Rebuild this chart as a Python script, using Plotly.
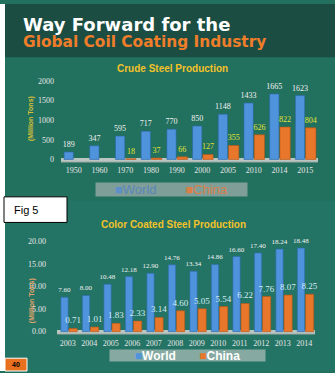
import plotly.graph_objects as go

# ---- data ----
crude_years = ["1950", "1960", "1970", "1980", "1990", "2000", "2005", "2010", "2014", "2015"]
crude_world = [189, 347, 595, 717, 770, 850, 1148, 1433, 1665, 1623]
crude_china = [None, None, 18, 37, 66, 127, 355, 626, 822, 804]

cc_years = ["2003", "2004", "2005", "2006", "2007", "2008", "2009", "2010", "2011", "2012", "2013", "2014"]
cc_world = [7.60, 8.00, 10.48, 12.18, 12.90, 14.76, 13.34, 14.86, 16.60, 17.40, 18.24, 18.48]
cc_china = [0.71, 1.01, 1.83, 2.33, 3.14, 4.60, 5.05, 5.54, 6.22, 7.76, 8.07, 8.25]

W, H = 335, 373
BLUE = "#4f93dc"
ORANGE = "#e8772b"
YELLOW = "#f2c22a"

def px(x):
    return x / W

def py(y):
    return (H - y) / H

fig = go.Figure()

# Chart 1: Crude steel
fig.add_trace(go.Bar(
    x=crude_years, y=crude_world, name="World", xaxis="x", yaxis="y",
    marker=dict(color=BLUE, line=dict(color="#2d6aa8", width=0.6)),
    offset=-0.38, width=0.36,
    text=[str(v) for v in crude_world], textposition="outside", constraintext="none",
    textfont=dict(color="#f2f2f2", size=8, family="Liberation Serif"),
    cliponaxis=False, showlegend=False))
fig.add_trace(go.Bar(
    x=crude_years, y=crude_china, name="China", xaxis="x", yaxis="y",
    marker=dict(color=ORANGE, line=dict(color="#b85515", width=0.6)),
    offset=0.02, width=0.4,
    text=["" if v is None else str(v) for v in crude_china], textposition="outside",
    constraintext="none",
    textfont=dict(color="#e4e434", size=8, family="Liberation Serif"),
    cliponaxis=False, showlegend=False))

# Chart 2: Color coated steel
fig.add_trace(go.Bar(
    x=cc_years, y=cc_world, name="World", xaxis="x2", yaxis="y2",
    marker=dict(color=BLUE, line=dict(color="#2d6aa8", width=0.6)),
    offset=-0.32, width=0.34,
    text=[f"{v:.2f}" for v in cc_world], textposition="outside", constraintext="none",
    textfont=dict(color="#f2f2f2", size=7, family="Liberation Serif"),
    cliponaxis=False, showlegend=False))
fig.add_trace(go.Bar(
    x=cc_years, y=cc_china, name="China", xaxis="x2", yaxis="y2",
    marker=dict(color=ORANGE, line=dict(color="#b85515", width=0.6)),
    offset=0.06, width=0.38,
    text=[f"{v:.2f}" for v in cc_china], textposition="outside", constraintext="none",
    textfont=dict(color="#d6ecf6", size=9, family="Liberation Serif"),
    cliponaxis=False, showlegend=False))

tickfont = dict(color="#e6e6e6", size=8, family="Liberation Serif")

fig.update_layout(
    width=W, height=H,
    margin=dict(l=0, r=0, t=0, b=0),
    paper_bgcolor="#22705e",
    plot_bgcolor="rgba(0,0,0,0)",
    barmode="overlay",
    xaxis=dict(domain=[px(61), px(318)], anchor="y", showgrid=False, zeroline=False,
               showline=False, ticks="", tickfont=tickfont, ticklabelstandoff=2),
    yaxis=dict(domain=[py(161), py(78)], anchor="x", range=[-75, 2000],
               tickvals=[0, 500, 1000, 1500, 2000], showgrid=False, zeroline=False,
               showline=False, ticks="", tickfont=tickfont, ticklabelstandoff=6),
    xaxis2=dict(domain=[px(57), px(315)], anchor="y2", showgrid=False, zeroline=False,
                showline=False, ticks="", tickfont=tickfont, ticklabelstandoff=2),
    yaxis2=dict(domain=[py(336), py(241)], anchor="x2", range=[-0.65, 20],
                tickvals=[0, 5, 10, 15, 20], tickformat=".2f", showgrid=False,
                zeroline=False, showline=False, ticks="", tickfont=tickfont,
                ticklabelstandoff=10),
)

shapes = [
    # header band
    dict(type="rect", xref="paper", yref="paper", x0=0, x1=1, y0=py(54), y1=1,
         fillcolor="#1b4d42", line=dict(width=0), layer="below"),
    # lower area tint
    dict(type="rect", xref="paper", yref="paper", x0=0, x1=1, y0=0, y1=py(200),
         fillcolor="#26776a", line=dict(width=0), layer="below", opacity=0.6),
    # left white strip
    dict(type="rect", xref="paper", yref="paper", x0=0, x1=px(5), y0=0, y1=1,
         fillcolor="white", line=dict(width=0)),
    # floors
    dict(type="rect", xref="x domain", yref="y", x0=0, x1=1, y0=-75, y1=40,
         fillcolor="#b9c6c2", line=dict(width=0), layer="below"),
    dict(type="line", xref="x domain", yref="y", x0=0, x1=1, y0=-75, y1=-75,
         line=dict(color="#7f908c", width=1.5)),
    dict(type="rect", xref="x2 domain", yref="y2", x0=0, x1=1, y0=-0.65, y1=0.35,
         fillcolor="#b9c6c2", line=dict(width=0), layer="below"),
    dict(type="line", xref="x2 domain", yref="y2", x0=0, x1=1, y0=-0.65, y1=-0.65,
         line=dict(color="#7f908c", width=1.5)),
    # Fig 5 box
    dict(type="rect", xref="paper", yref="paper", x0=px(4), x1=px(67), y0=py(222), y1=py(196),
         fillcolor="white", line=dict(color="black", width=1)),
    # page number box
    dict(type="rect", xref="paper", yref="paper", x0=px(5), x1=px(27), y0=0, y1=py(360),
         fillcolor="#e8701e", line=dict(color="white", width=1)),
]
fig.update_layout(shapes=shapes)

ann = [
    dict(text="<b>Way Forward for the</b>", x=px(21), y=py(20.5), xanchor="left", yanchor="middle",
         font=dict(color="white", size=18, family="DejaVu Sans")),
    dict(text="<b>Global Coil Coating Industry</b>", x=px(21), y=py(39), xanchor="left", yanchor="middle",
         font=dict(color="#ef7d2a", size=15.4, family="DejaVu Sans")),
    dict(text="<b>Crude Steel Production</b>", x=px(172), y=py(66), xanchor="center", yanchor="middle",
         font=dict(color=YELLOW, size=10, family="Liberation Sans")),
    dict(text="<b>Color Coated Steel Production</b>", x=px(173), y=py(224), xanchor="center", yanchor="middle",
         font=dict(color=YELLOW, size=10, family="Liberation Sans")),
    dict(text="<b>(Million Tons)</b>", x=px(31), y=py(117), xanchor="center", yanchor="middle",
         textangle=-90, font=dict(color="#d9c23a", size=7, family="Liberation Sans")),
    dict(text="<b>(Million Tons)</b>", x=px(32), y=py(302), xanchor="center", yanchor="middle",
         textangle=-90, font=dict(color="#e8a56a", size=7, family="Liberation Sans")),
    # legend 1 (partially cut in the original)
    dict(text="<span style='color:#5f8fc8'>■</span><span style='color:#5a86b8'>World</span>"
              "        <span style='color:#d9804a'>■China</span>",
         x=px(171), y=py(189), xanchor="center", yanchor="middle", width=151, height=13,
         bgcolor="#7f9e98", borderpad=0,
         font=dict(size=13, family="Liberation Sans")),
    # legend 2
    dict(text="<span style='color:" + BLUE + "'>■</span><b>World</b>"
              "       <span style='color:" + ORANGE + "'>■</span><b>China</b>",
         x=px(187), y=py(357.5), xanchor="center", yanchor="middle", width=155, height=11,
         bgcolor="#86aaa2", borderpad=0,
         font=dict(size=12, color="white", family="Liberation Sans")),
    dict(text="Fig 5", x=px(12), y=py(209), xanchor="left", yanchor="middle",
         font=dict(color="black", size=11, family="Liberation Sans")),
    dict(text="<b>40</b>", x=px(16), y=py(366.5), xanchor="center", yanchor="middle",
         font=dict(color="black", size=7, family="Liberation Sans")),
]
for a in ann:
    a.setdefault("xref", "paper")
    a.setdefault("yref", "paper")
    a.setdefault("showarrow", False)
fig.update_layout(annotations=ann)

fig.write_html("out.html")
